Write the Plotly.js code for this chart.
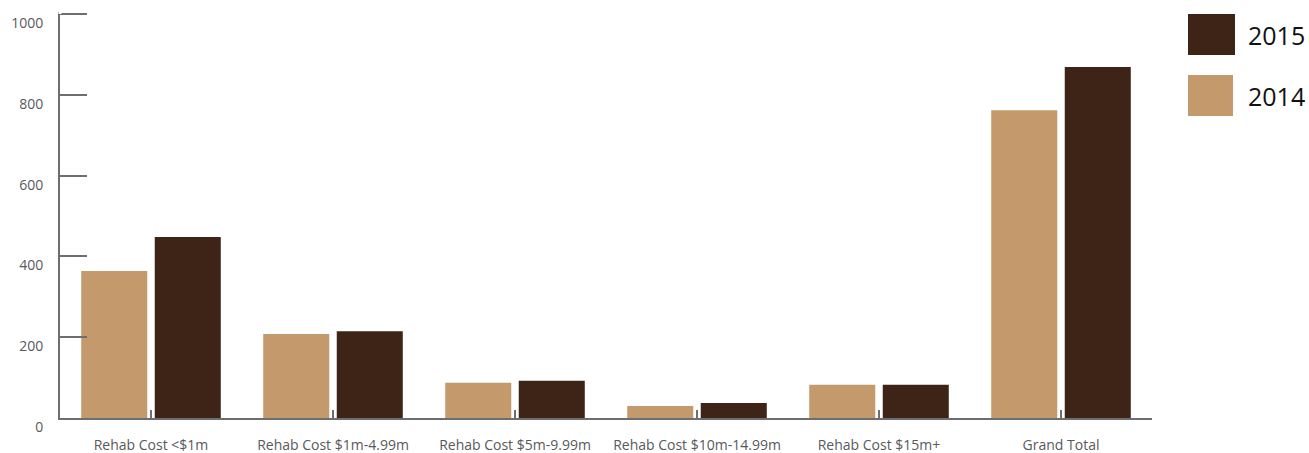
<!DOCTYPE html>
<html>
<head>
<meta charset="utf-8">
<script src="https://cdn.plot.ly/plotly-3.0.1.min.js"></script>
<style>html,body{margin:0;padding:0;background:#fff;}#chart{width:1309px;height:453px;}</style>
</head>
<body>
<div id="chart"></div>
<script>
const categories = ["Rehab Cost <$1m", "Rehab Cost $1m-4.99m", "Rehab Cost $5m-9.99m", "Rehab Cost $10m-14.99m", "Rehab Cost $15m+", "Grand Total"];
const values2014 = [364, 208, 87, 30, 82, 762];
const values2015 = [448, 215, 92, 37, 82, 869];
const seriesNames = ["2014", "2015"];
const yTicks = [0, 200, 400, 600, 800, 1000];

const color2014 = "#c4996b";
const color2015 = "#3e2416";
const axisColor = "#6d6e71";
const labelFont = {family: "Open Sans, Noto Sans, sans-serif", size: 14, color: "#58595b"};

const traces = [
  {type: "bar", name: seriesNames[0], x: categories, y: values2014, marker: {color: color2014}, showlegend: false, hoverinfo: "x+y"},
  {type: "bar", name: seriesNames[1], x: categories, y: values2015, marker: {color: color2015}, showlegend: false, hoverinfo: "x+y"}
];

const layout = {
  width: 1309, height: 453,
  margin: {l: 60, r: 157, t: 12, b: 35},
  paper_bgcolor: "#fff", plot_bgcolor: "#fff",
  barmode: "group", bargap: 0.192, bargroupgap: 0.102,
  xaxis: {
    type: "category", range: [-0.5, 5.5],
    showline: true, linecolor: axisColor, linewidth: 2,
    ticks: "inside", ticklen: 8, tickwidth: 2, tickcolor: axisColor,
    showgrid: false, zeroline: false,
    tickfont: labelFont, ticklabelstandoff: 13
  },
  yaxis: {
    range: [0, 1005], tickvals: yTicks, ticktext: yTicks.map(String),
    showline: true, linecolor: axisColor, linewidth: 2,
    ticks: "inside", ticklen: 27, tickwidth: 2, tickcolor: axisColor,
    showgrid: false, zeroline: false,
    tickfont: labelFont, ticklabelstandoff: 12, ticklabelshift: 9
  },
  shapes: [
    {type: "line", xref: "paper", yref: "paper", x0: 0, x1: 0, y0: 1000/1005, y1: 1, line: {color: "#fff", width: 3}},
    {type: "rect", xref: "paper", yref: "paper", x0: 1128/1092, x1: 1175/1092, y0: (418-14)/406, y1: (418-55)/406, fillcolor: color2015, line: {width: 0}},
    {type: "rect", xref: "paper", yref: "paper", x0: 1128/1092, x1: 1173/1092, y0: (418-75)/406, y1: (418-116)/406, fillcolor: color2014, line: {width: 0}}
  ],
  annotations: [
    {xref: "paper", yref: "paper", x: 1186/1092, y: (418-35)/406, xanchor: "left", yanchor: "middle", text: seriesNames[1], showarrow: false, font: {family: "Open Sans, Noto Sans, sans-serif", size: 25, color: "#111"}},
    {xref: "paper", yref: "paper", x: 1186/1092, y: (418-96)/406, xanchor: "left", yanchor: "middle", text: seriesNames[0], showarrow: false, font: {family: "Open Sans, Noto Sans, sans-serif", size: 25, color: "#111"}}
  ]
};

Plotly.newPlot("chart", traces, layout, {displayModeBar: false, staticPlot: true});
</script>
</body>
</html>
